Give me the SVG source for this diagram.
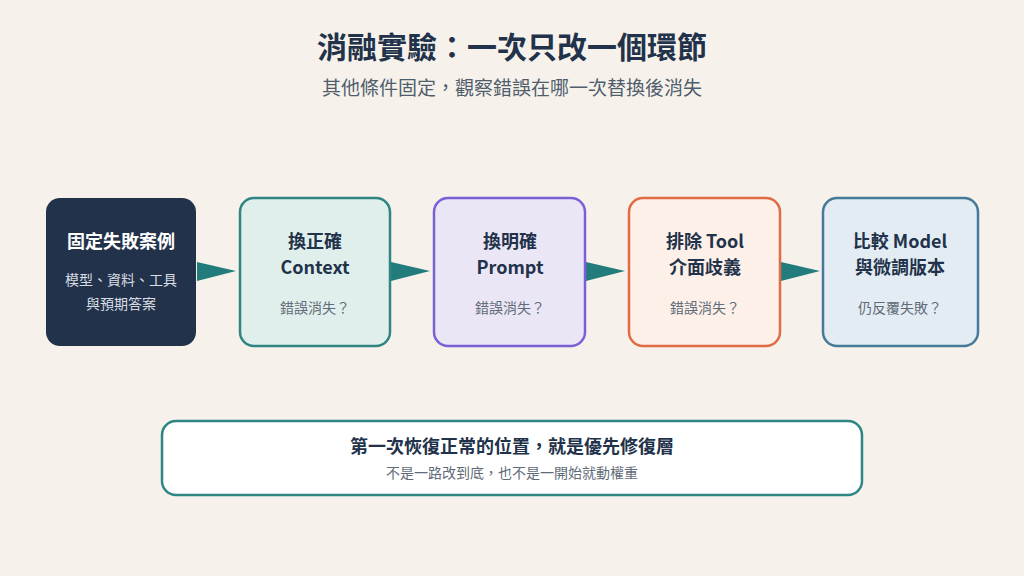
<svg xmlns="http://www.w3.org/2000/svg" width="1024" height="576" viewBox="0 0 1024 576">
<style>
text{font-family:"Noto Sans CJK TC","Noto Sans",sans-serif;text-anchor:middle}
.t{font-size:18px;font-weight:700;fill:#22324a}
.s{font-size:14px;fill:#5f6b78}
.box{stroke-width:2.5}
</style>
<defs><marker id="a" markerWidth="10" markerHeight="10" refX="9" refY="5" orient="auto" markerUnits="userSpaceOnUse" viewBox="0 0 10 10"><path d="M0,0L10,5L0,10z" fill="#237c7c"/></marker></defs>
<rect width="1024" height="576" fill="#f6f2eb"/>
<text x="512" y="58" style="font-size:30px;font-weight:700;fill:#22324a">消融實驗：一次只改一個環節</text>
<text x="512" y="95" style="font-size:19px;fill:#4f5d6c">其他條件固定，觀察錯誤在哪一次替換後消失</text>
<g id="connectors" fill="#237c7c">
<path d="M197,262 L236,271 L197,281 Z"/>
<path d="M391,262 L430,271 L391,281 Z"/>
<path d="M586,262 L625,271 L586,281 Z"/>
<path d="M781,262 L820,271 L781,281 Z"/>
</g>
<g id="n1"><rect x="46" y="198" width="150" height="148" rx="14" fill="#22324a"/>
<text x="121" y="248" class="t" fill="#fff" style="fill:#fff">固定失敗案例</text>
<text x="121" y="285" class="s" style="fill:#d8dde3">模型、資料、工具</text>
<text x="121" y="309" class="s" style="fill:#d8dde3">與預期答案</text></g>
<g id="n2"><rect x="240" y="198" width="150" height="148" rx="14" fill="#e1efec" stroke="#2e8582" class="box"/>
<text x="315" y="248" class="t">換正確</text><text x="315" y="274" class="t">Context</text><text x="315" y="313" class="s">錯誤消失？</text></g>
<g id="n3"><rect x="434" y="198" width="151" height="148" rx="14" fill="#ebe6f6" stroke="#7b5fd6" class="box"/>
<text x="510" y="248" class="t">換明確</text><text x="510" y="274" class="t">Prompt</text><text x="510" y="313" class="s">錯誤消失？</text></g>
<g id="n4"><rect x="629" y="198" width="151" height="148" rx="14" fill="#fdf0e8" stroke="#e06c45" class="box"/>
<text x="705" y="248" class="t">排除 Tool</text><text x="705" y="274" class="t">介面歧義</text><text x="705" y="313" class="s">錯誤消失？</text></g>
<g id="n5"><rect x="823" y="198" width="155" height="148" rx="14" fill="#e3ecf3" stroke="#467a9a" class="box"/>
<text x="900" y="248" class="t">比較 Model</text><text x="900" y="274" class="t">與微調版本</text><text x="900" y="313" class="s">仍反覆失敗？</text></g>
<g id="n6"><rect x="162" y="421" width="700" height="74" rx="14" fill="#fff" stroke="#2e8582" class="box"/>
<text x="512" y="453" class="t">第一次恢復正常的位置，就是優先修復層</text>
<text x="512" y="478" class="s">不是一路改到底，也不是一開始就動權重</text></g>
</svg>
